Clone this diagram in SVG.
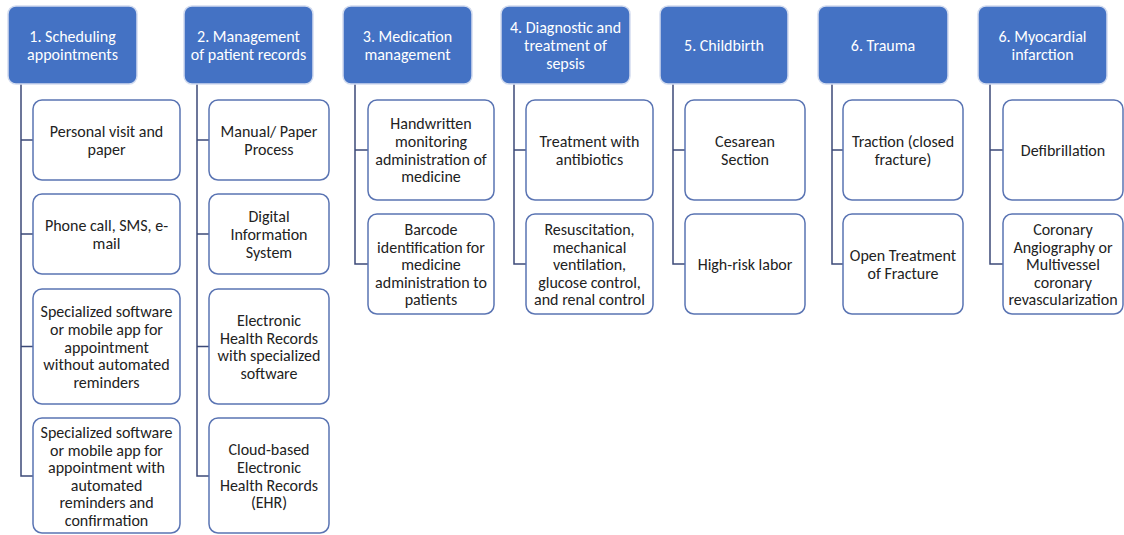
<svg xmlns="http://www.w3.org/2000/svg" width="1124" height="535" viewBox="0 0 1124 535">
  <style>
    .hdr rect { fill: #4472c4; stroke: #d3dcef; stroke-width: 1.5; }
    .hdr text { fill: #ffffff; }
    .item rect { fill: #ffffff; stroke: #5a74b3; stroke-width: 1.5; }
    .item text { fill: #222222; }
    text { font-family: Carlito, Lato, "Liberation Sans", sans-serif; font-size: 16px; text-anchor: middle; dominant-baseline: central; }
    #connectors path { fill: none; stroke: #3c4a78; stroke-width: 1.5; }
  </style>
  <rect width="1124" height="535" fill="#ffffff"/>

  <!-- tree lines from each header down to its items -->
  <g id="connectors">
    <path d="M21 84 V476 H33 M21 140 H33 M21 234 H33 M21 346.5 H33"/>
    <path d="M197 84 V476 H209 M197 140 H209 M197 234 H209 M197 346.5 H209"/>
    <path d="M355 84 V264 H368 M355 150 H368"/>
    <path d="M514 84 V264 H526 M514 150 H526"/>
    <path d="M673 84 V264 H685 M673 150 H685"/>
    <path d="M832 84 V264 H843 M832 150 H843"/>
    <path d="M990 84 V264 H1003 M990 150 H1003"/>
  </g>

  <!-- column headers -->
  <g id="h1" class="hdr"><rect x="8" y="6" width="129" height="78" rx="8"/>
    <text x="72.5" y="36.25">1. Scheduling<tspan x="72.5" dy="17.5">appointments</tspan></text></g>
  <g id="h2" class="hdr"><rect x="184" y="6" width="129" height="78" rx="8"/>
    <text x="248.5" y="36.25">2. Management<tspan x="248.5" dy="17.5">of patient records</tspan></text></g>
  <g id="h3" class="hdr"><rect x="343" y="6" width="129" height="78" rx="8"/>
    <text x="407.5" y="36.25">3. Medication<tspan x="407.5" dy="17.5">management</tspan></text></g>
  <g id="h4" class="hdr"><rect x="501" y="6" width="129" height="78" rx="8"/>
    <text x="565.5" y="27.5">4. Diagnostic and<tspan x="565.5" dy="17.5">treatment of</tspan><tspan x="565.5" dy="17.5">sepsis</tspan></text></g>
  <g id="h5" class="hdr"><rect x="660" y="6" width="128" height="78" rx="8"/>
    <text x="724" y="45">5. Childbirth</text></g>
  <g id="h6" class="hdr"><rect x="818" y="6" width="130" height="78" rx="8"/>
    <text x="883" y="45">6. Trauma</text></g>
  <g id="h7" class="hdr"><rect x="978" y="6" width="129" height="78" rx="8"/>
    <text x="1042.5" y="36.25">6. Myocardial<tspan x="1042.5" dy="17.5">infarction</tspan></text></g>

  <!-- column 1 items -->
  <g id="c1a" class="item"><rect x="33" y="100" width="147" height="80" rx="9"/>
    <text x="106.5" y="131.25">Personal visit and<tspan x="106.5" dy="17.5">paper</tspan></text></g>
  <g id="c1b" class="item"><rect x="33" y="194" width="147" height="80" rx="9"/>
    <text x="106.5" y="225.25">Phone call, SMS, e-<tspan x="106.5" dy="17.5">mail</tspan></text></g>
  <g id="c1c" class="item"><rect x="33" y="289" width="147" height="115" rx="9"/>
    <text x="106.5" y="311.5">Specialized software<tspan x="106.5" dy="17.5">or mobile app for</tspan><tspan x="106.5" dy="17.5">appointment</tspan><tspan x="106.5" dy="17.5">without automated</tspan><tspan x="106.5" dy="17.5">reminders</tspan></text></g>
  <g id="c1d" class="item"><rect x="33" y="418" width="147" height="115" rx="9"/>
    <text x="106.5" y="432.25">Specialized software<tspan x="106.5" dy="17.5">or mobile app for</tspan><tspan x="106.5" dy="17.5">appointment with</tspan><tspan x="106.5" dy="17.5">automated</tspan><tspan x="106.5" dy="17.5">reminders and</tspan><tspan x="106.5" dy="17.5">confirmation</tspan></text></g>

  <!-- column 2 items -->
  <g id="c2a" class="item"><rect x="209" y="100" width="120" height="80" rx="9"/>
    <text x="269" y="131.25">Manual/ Paper<tspan x="269" dy="17.5">Process</tspan></text></g>
  <g id="c2b" class="item"><rect x="209" y="194" width="120" height="80" rx="9"/>
    <text x="269" y="216.5">Digital<tspan x="269" dy="17.5">Information</tspan><tspan x="269" dy="17.5">System</tspan></text></g>
  <g id="c2c" class="item"><rect x="209" y="289" width="120" height="115" rx="9"/>
    <text x="269" y="320.25">Electronic<tspan x="269" dy="17.5">Health Records</tspan><tspan x="269" dy="17.5">with specialized</tspan><tspan x="269" dy="17.5">software</tspan></text></g>
  <g id="c2d" class="item"><rect x="209" y="418" width="120" height="115" rx="9"/>
    <text x="269" y="449.75">Cloud-based<tspan x="269" dy="17.5">Electronic</tspan><tspan x="269" dy="17.5">Health Records</tspan><tspan x="269" dy="17.5">(EHR)</tspan></text></g>

  <!-- column 3 items -->
  <g id="c3a" class="item"><rect x="368" y="100" width="126" height="100" rx="9"/>
    <text x="431" y="123.75">Handwritten<tspan x="431" dy="17.5">monitoring</tspan><tspan x="431" dy="17.5">administration of</tspan><tspan x="431" dy="17.5">medicine</tspan></text></g>
  <g id="c3b" class="item"><rect x="368" y="214" width="126" height="100" rx="9"/>
    <text x="431" y="229">Barcode<tspan x="431" dy="17.5">identification for</tspan><tspan x="431" dy="17.5">medicine</tspan><tspan x="431" dy="17.5">administration to</tspan><tspan x="431" dy="17.5">patients</tspan></text></g>

  <!-- column 4 items -->
  <g id="c4a" class="item"><rect x="526" y="100" width="127" height="100" rx="9"/>
    <text x="589.5" y="141.25">Treatment with<tspan x="589.5" dy="17.5">antibiotics</tspan></text></g>
  <g id="c4b" class="item"><rect x="526" y="214" width="127" height="100" rx="9"/>
    <text x="589.5" y="229">Resuscitation,<tspan x="589.5" dy="17.5">mechanical</tspan><tspan x="589.5" dy="17.5">ventilation,</tspan><tspan x="589.5" dy="17.5">glucose control,</tspan><tspan x="589.5" dy="17.5">and renal control</tspan></text></g>

  <!-- column 5 items -->
  <g id="c5a" class="item"><rect x="685" y="100" width="120" height="100" rx="9"/>
    <text x="745" y="141.25">Cesarean<tspan x="745" dy="17.5">Section</tspan></text></g>
  <g id="c5b" class="item"><rect x="685" y="214" width="120" height="100" rx="9"/>
    <text x="745" y="264">High-risk labor</text></g>

  <!-- column 6 items -->
  <g id="c6a" class="item"><rect x="843" y="100" width="120" height="100" rx="9"/>
    <text x="903" y="141.25">Traction (closed<tspan x="903" dy="17.5">fracture)</tspan></text></g>
  <g id="c6b" class="item"><rect x="843" y="214" width="120" height="100" rx="9"/>
    <text x="903" y="255.25">Open Treatment<tspan x="903" dy="17.5">of Fracture</tspan></text></g>

  <!-- column 7 items -->
  <g id="c7a" class="item"><rect x="1003" y="100" width="120" height="100" rx="9"/>
    <text x="1063" y="150">Defibrillation</text></g>
  <g id="c7b" class="item"><rect x="1003" y="214" width="120" height="100" rx="9"/>
    <text x="1063" y="229">Coronary<tspan x="1063" dy="17.5">Angiography or</tspan><tspan x="1063" dy="17.5">Multivessel</tspan><tspan x="1063" dy="17.5">coronary</tspan><tspan x="1063" dy="17.5">revascularization</tspan></text></g>
</svg>
